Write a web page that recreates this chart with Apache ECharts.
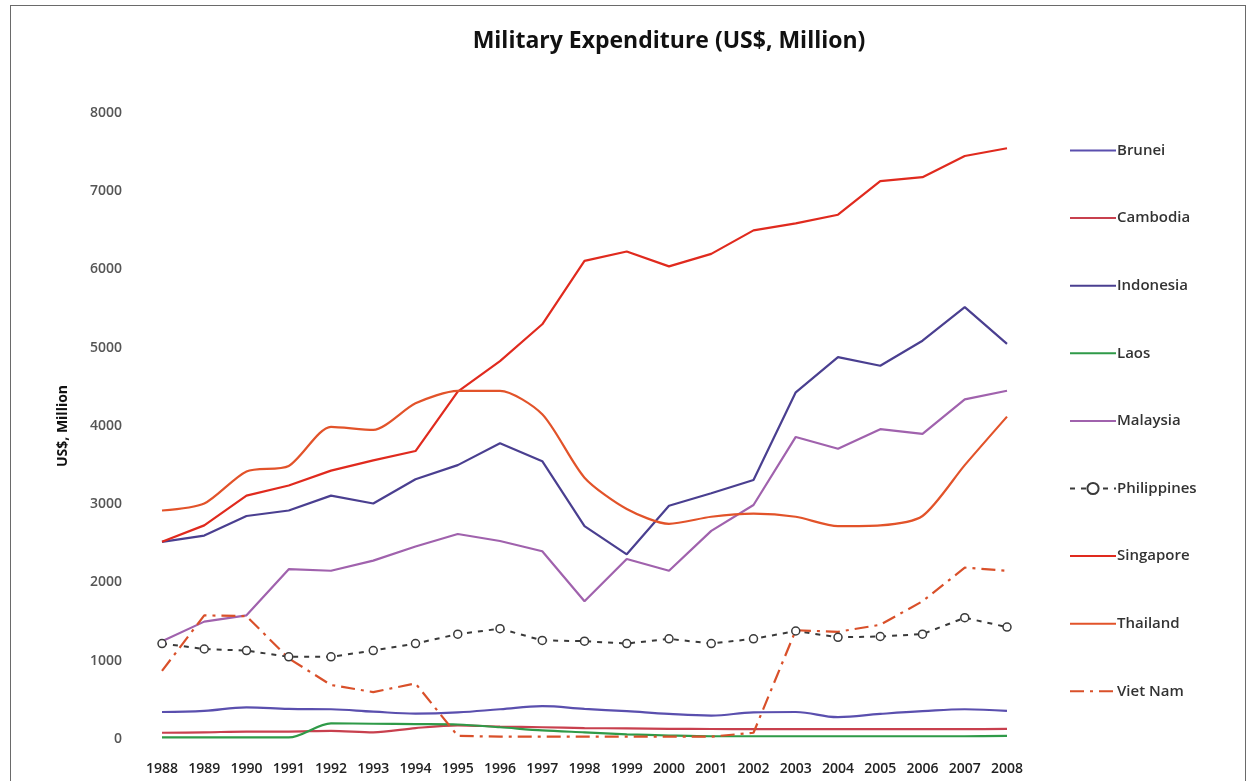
<!DOCTYPE html>
<html>
<head>
<meta charset="utf-8">
<title>Military Expenditure (US$, Million)</title>
<script src="https://cdn.jsdelivr.net/npm/echarts@6/dist/echarts.min.js"></script>
<style>
  html, body { margin: 0; padding: 0; background: #ffffff; overflow: hidden; }
  #chart { position: absolute; left: 0; top: 0; width: 1251px; height: 781px; }
  #frame { position: absolute; left: 10px; top: 5px; width: 1236px; height: 800px; border: 1px solid #6a6a6a; box-sizing: border-box; pointer-events: none; z-index: 5; }
</style>
</head>
<body>
<div id="chart"></div>
<div id="frame"></div>
<script>
// Years on the category axis
const years = ['1988','1989','1990','1991','1992','1993','1994','1995','1996','1997','1998',
               '1999','2000','2001','2002','2003','2004','2005','2006','2007','2008'];

// Military expenditure per country, US$ million
const brunei      = [345, 360, 405, 385, 380, 350, 325, 340, 380, 420, 385, 355, 320, 300, 340, 345, 280, 320, 355, 380, 360];
const cambodia    = [80, 85, 95, 95, 105, 85, 140, 175, 160, 150, 140, 135, 130, 128, 125, 125, 125, 125, 125, 125, 130];
const indonesia   = [2520, 2600, 2850, 2920, 3110, 3010, 3320, 3500, 3780, 3550, 2720, 2360, 2980, 3140, 3310, 4430, 4880, 4770, 5090, 5520, 5050];
const laos        = [20, 20, 20, 20, 200, 195, 190, 185, 150, 110, 85, 60, 45, 35, 35, 35, 35, 35, 35, 35, 40];
const malaysia    = [1250, 1500, 1580, 2170, 2150, 2280, 2460, 2620, 2530, 2400, 1760, 2300, 2150, 2660, 2990, 3860, 3710, 3960, 3900, 4340, 4450];
const philippines = [1220, 1150, 1130, 1050, 1050, 1130, 1220, 1340, 1410, 1260, 1250, 1220, 1280, 1220, 1280, 1380, 1300, 1310, 1340, 1550, 1430];
const singapore   = [2520, 2730, 3110, 3240, 3430, 3560, 3680, 4440, 4830, 5300, 6110, 6230, 6040, 6200, 6500, 6590, 6700, 7130, 7180, 7450, 7550];
const thailand    = [2920, 3010, 3420, 3490, 3990, 3950, 4290, 4450, 4450, 4150, 3340, 2940, 2750, 2840, 2880, 2840, 2720, 2730, 2850, 3500, 4120];
const vietnam     = [870, 1580, 1570, 1030, 690, 600, 710, 40, 30, 30, 30, 30, 30, 30, 80, 1390, 1370, 1460, 1760, 2190, 2150];

// Y-axis ticks
const yMin = 0, yMax = 8000, yStep = 1000;

const FONT = '"Open Sans", Lato, sans-serif';

const chart = echarts.init(document.getElementById('chart'), null, { renderer: 'canvas' });

function solid(name, data, color, smooth) {
  return {
    name, type: 'line', data,
    symbol: 'none', smooth: smooth || false,
    lineStyle: { color, width: 2.2 },
    itemStyle: { color },
    emphasis: { disabled: true }
  };
}

// Legend entries: plain lines carry no marker, Philippines keeps its open circle
const legendNames = ['Brunei','Cambodia','Indonesia','Laos','Malaysia','Philippines','Singapore','Thailand','Viet Nam'];
const legendData = legendNames.map(n => n === 'Philippines'
  ? { name: n }
  : { name: n, itemStyle: { opacity: 0 } });

const option = {
  backgroundColor: 'transparent',
  animation: false,
  textStyle: { fontFamily: FONT },
  title: {
    text: 'Military Expenditure (US$, Million)',
    left: 664, top: 25, textAlign: 'center',
    textStyle: { fontFamily: FONT, fontSize: 23, fontWeight: 'bold', color: '#111' }
  },
  legend: {
    orient: 'vertical',
    left: 1064, top: 138,
    itemWidth: 46, itemHeight: 14, itemGap: 52.6,
    textStyle: { fontFamily: FONT, fontSize: 15, fontWeight: 600, color: '#333', padding: [0, 0, 0, -4] },
    data: legendData
  },
  grid: { left: 162, right: 244, top: 113, bottom: 42, containLabel: false },
  xAxis: {
    type: 'category', data: years, boundaryGap: false,
    axisLine: { show: false }, axisTick: { show: false },
    axisLabel: { margin: 23, interval: 0, fontFamily: FONT, fontSize: 14, fontWeight: 600, color: '#222' }
  },
  yAxis: {
    type: 'value', min: yMin, max: yMax, interval: yStep,
    name: 'US$, Million', nameLocation: 'middle', nameGap: 92, nameRotate: 90,
    nameTextStyle: { fontFamily: FONT, fontSize: 14, fontWeight: 'bold', color: '#111' },
    axisLine: { show: false }, axisTick: { show: false }, splitLine: { show: false },
    axisLabel: { margin: 40, fontFamily: FONT, fontSize: 14, fontWeight: 600, color: '#555',
                 formatter: v => String(v) }
  },
  series: [
    solid('Brunei', brunei, '#5a4fae', 0.4),
    solid('Cambodia', cambodia, '#c8404e', 0.3),
    solid('Indonesia', indonesia, '#4a3f90'),
    solid('Laos', laos, '#2f9a48', 0.3),
    solid('Malaysia', malaysia, '#a062ad'),
    {
      name: 'Philippines', type: 'line', data: philippines,
      symbol: 'circle', symbolSize: 8, showSymbol: true,
      lineStyle: { color: '#3a3a3a', width: 2, type: [5, 6] },
      itemStyle: { color: '#ffffff', borderColor: '#3a3a3a', borderWidth: 1.5 },
      emphasis: { disabled: true }
    },
    solid('Singapore', singapore, '#e02a1e'),
    solid('Thailand', thailand, '#e2532a', 0.25),
    {
      name: 'Viet Nam', type: 'line', data: vietnam,
      symbol: 'none',
      lineStyle: { color: '#d9502a', width: 2.2, type: [14, 6, 3, 6] },
      itemStyle: { color: '#d9502a' },
      emphasis: { disabled: true }
    }
  ]
};

chart.setOption(option);
</script>
</body>
</html>
